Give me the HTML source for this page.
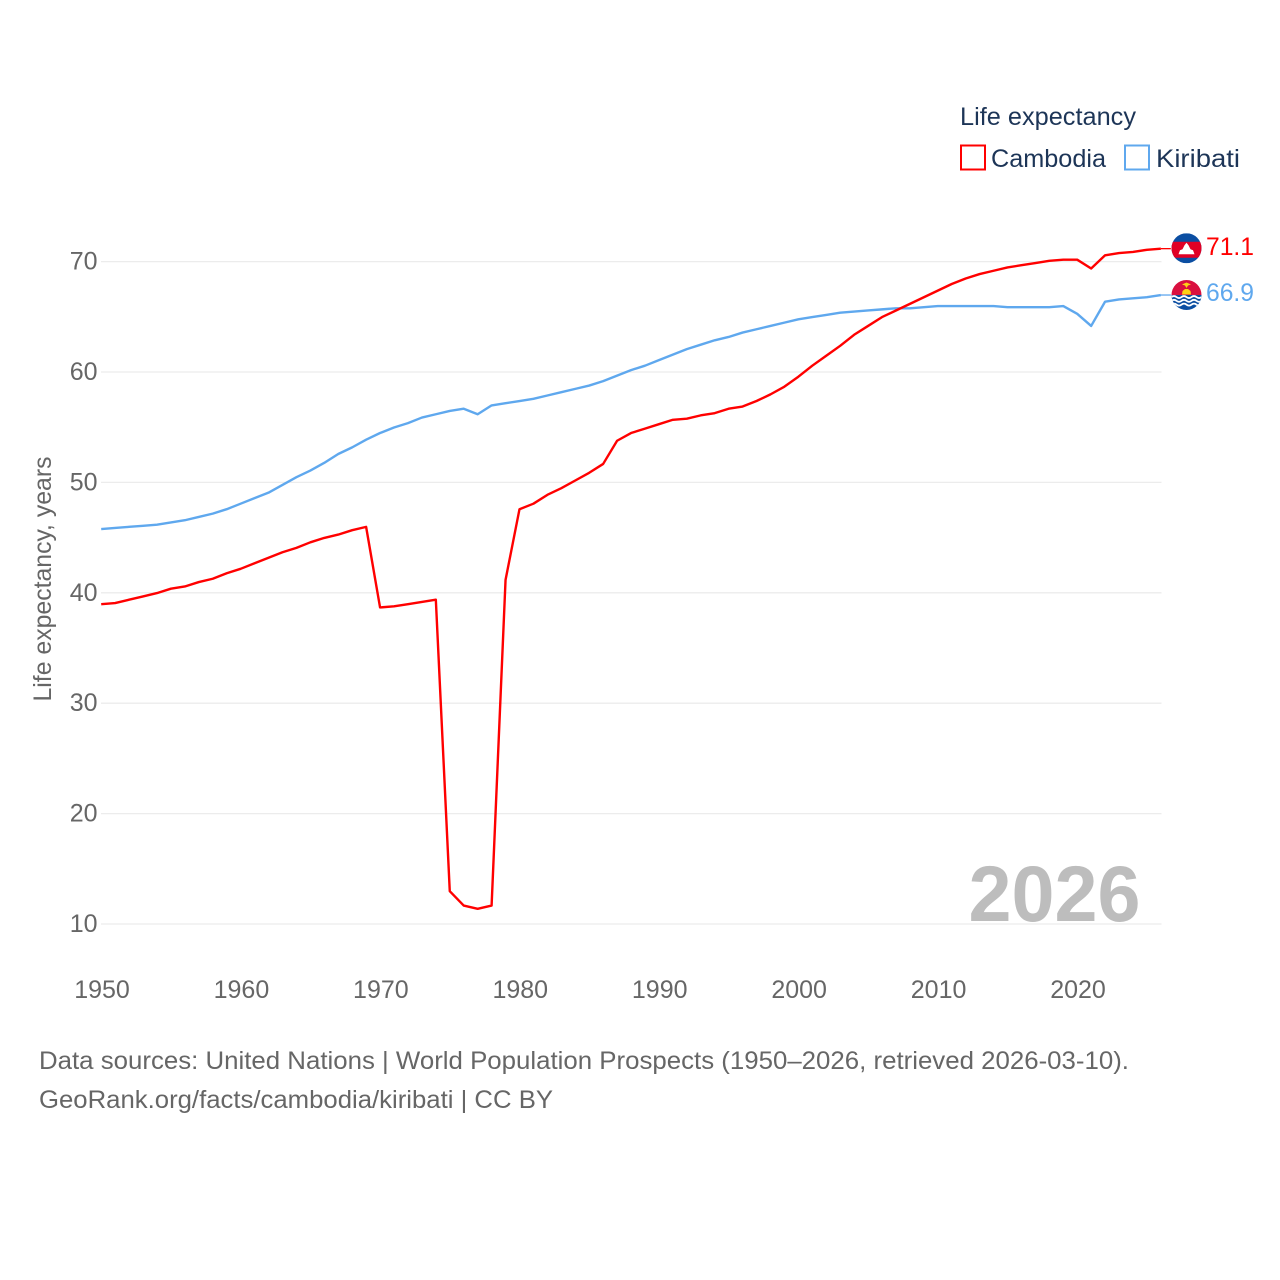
<!DOCTYPE html>
<html lang="en">
<head>
<meta charset="utf-8">
<title>Life expectancy: Cambodia and Kiribati</title>
<style>
html,body{margin:0;padding:0;background:#fff;width:1280px;height:1280px;overflow:hidden}
svg{display:block}
text{font-family:"Liberation Sans",Arial,sans-serif}
</style>
</head>
<body>
<svg id="chart" xmlns="http://www.w3.org/2000/svg" width="1280" height="1280" viewBox="0 0 1280 1280">
  <defs>
    <clipPath id="flag-clip"><circle cx="0" cy="0" r="15"></circle></clipPath>
  </defs>
  <g id="grid"></g>
  <g id="yticks"></g>
  <g id="xticks"></g>
  <text transform="translate(51,701.5) rotate(-90)" font-size="25" fill="#666" textLength="245" lengthAdjust="spacingAndGlyphs">Life expectancy, years</text>
  <text x="968.5" y="921" font-size="79" font-weight="bold" fill="#bdbdbd" textLength="172" lengthAdjust="spacingAndGlyphs">2026</text>
  <g id="series" transform="translate(-0.8,-0.8)"></g>

  <g id="flag-cambodia">
    <g clip-path="url(#flag-clip)">
      <rect x="-15" y="-15" width="30" height="30" fill="#0b4ea2"></rect>
      <rect x="-15" y="-6.5" width="30" height="16" fill="#e00025"></rect>
      <path d="M-8 6 L-6.5 2 L-4 1 L-2 -3 L0 -5.5 L2 -3 L4 1 L6.5 2 L8 6 Z" fill="#fff"></path>
    </g>
  </g>
  <g id="flag-kiribati">
    <g clip-path="url(#flag-clip)">
      <rect x="-15" y="-15" width="30" height="16" fill="#d9103f"></rect>
      <rect x="-15" y="0" width="30" height="16" fill="#0b4ea2"></rect>
      <path d="M-15 2 q2.5 -2 5 0 t5 0 t5 0 t5 0 t5 0 t5 0" fill="none" stroke="#fff" stroke-width="1.8"></path>
      <path d="M-15 5.8 q2.5 -2 5 0 t5 0 t5 0 t5 0 t5 0 t5 0" fill="none" stroke="#fff" stroke-width="1.8"></path>
      <path d="M-15 9.6 q2.5 -2 5 0 t5 0 t5 0 t5 0 t5 0 t5 0" fill="none" stroke="#fff" stroke-width="1.8"></path>
      <path d="M-4.5 -0.5 L-4 -4 L-1.5 -6 L1.5 -6 L4 -4 L4.5 -0.5 Z" fill="#fcd116"></path>
      <path d="M-4.5 -10.5 L0 -12.5 L4.5 -10.5 L1.5 -9.5 L0 -7 L-1.5 -9.5 Z" fill="#fcd116"></path>
    </g>
  </g>
  <g id="end-labels"></g>

  <g id="legend">
    <text x="960" y="125" font-size="25" fill="#1d3557" textLength="176" lengthAdjust="spacingAndGlyphs">Life expectancy</text>
    <g>
      <rect x="961" y="145.5" width="24" height="24" fill="none" stroke="#ff0000" stroke-width="2"></rect>
      <text x="991" y="167" font-size="25" fill="#1d3557" textLength="115" lengthAdjust="spacingAndGlyphs">Cambodia</text>
    </g>
    <g>
      <rect x="1125" y="145.5" width="24" height="24" fill="none" stroke="#5fa8ee" stroke-width="2"></rect>
      <text x="1156" y="167" font-size="25" fill="#1d3557" textLength="84" lengthAdjust="spacingAndGlyphs">Kiribati</text>
    </g>
  </g>

  <text x="39" y="1069" font-size="25" fill="#666" textLength="1090" lengthAdjust="spacingAndGlyphs">Data sources: United Nations | World Population Prospects (1950–2026, retrieved 2026-03-10).</text>
  <text x="39" y="1108" font-size="25" fill="#666" textLength="514" lengthAdjust="spacingAndGlyphs">GeoRank.org/facts/cambodia/kiribati | CC BY</text>
</svg>
<script>
const startYear = 1950;
const xTickYears = [1950, 1960, 1970, 1980, 1990, 2000, 2010, 2020];
const yTickValues = [10, 20, 30, 40, 50, 60, 70];
const cambodiaValues = [
  38.9, 39.0, 39.3, 39.6, 39.9, 40.3, 40.5, 40.9, 41.2, 41.7,
  42.1, 42.6, 43.1, 43.6, 44.0, 44.5, 44.9, 45.2, 45.6, 45.9,
  38.6, 38.7, 38.9, 39.1, 39.3, 12.9, 11.6, 11.3, 11.6, 41.1,
  47.5, 48.0, 48.8, 49.4, 50.1, 50.8, 51.6, 53.7, 54.4, 54.8,
  55.2, 55.6, 55.7, 56.0, 56.2, 56.6, 56.8, 57.3, 57.9, 58.6,
  59.5, 60.5, 61.4, 62.3, 63.3, 64.1, 64.9, 65.5, 66.1, 66.7,
  67.3, 67.9, 68.4, 68.8, 69.1, 69.4, 69.6, 69.8, 70.0, 70.1,
  70.1, 69.3, 70.5, 70.7, 70.8, 71.0, 71.1
];
const kiribatiValues = [
  45.7, 45.8, 45.9, 46.0, 46.1, 46.3, 46.5, 46.8, 47.1, 47.5,
  48.0, 48.5, 49.0, 49.7, 50.4, 51.0, 51.7, 52.5, 53.1, 53.8,
  54.4, 54.9, 55.3, 55.8, 56.1, 56.4, 56.6, 56.1, 56.9, 57.1,
  57.3, 57.5, 57.8, 58.1, 58.4, 58.7, 59.1, 59.6, 60.1, 60.5,
  61.0, 61.5, 62.0, 62.4, 62.8, 63.1, 63.5, 63.8, 64.1, 64.4,
  64.7, 64.9, 65.1, 65.3, 65.4, 65.5, 65.6, 65.7, 65.7, 65.8,
  65.9, 65.9, 65.9, 65.9, 65.9, 65.8, 65.8, 65.8, 65.8, 65.9,
  65.2, 64.1, 66.3, 66.5, 66.6, 66.7, 66.9
];

const NS = 'http://www.w3.org/2000/svg';
function xScale(year) { return 102 + (year - 1950) * 13.943; }
function yScale(value) { return 924 - (value - 10) * 11.04; }
function make(tag, attrs, text) {
  const el = document.createElementNS(NS, tag);
  for (const k in attrs) el.setAttribute(k, attrs[k]);
  if (text !== undefined) el.textContent = text;
  return el;
}

const grid = document.getElementById('grid');
const yticks = document.getElementById('yticks');
yTickValues.forEach(function (v) {
  const line = make('line', { x1: 101, x2: 1161.5, y1: yScale(v), y2: yScale(v), stroke: '#ececec', 'stroke-width': 1.3 });
  
  
  grid.appendChild(line);
  const label = make('text', { x: 97.5, y: yScale(v) + 8, 'text-anchor': 'end', 'font-size': 25, fill: '#666' }, String(v));
  
  
  yticks.appendChild(label);
});

const xticks = document.getElementById('xticks');
xTickYears.forEach(function (y) {
  const label = make('text', { x: xScale(y), y: 998, 'text-anchor': 'middle', 'font-size': 25, fill: '#666' }, String(y));
  
  
  xticks.appendChild(label);
});

function linePoints(values) {
  return values.map(function (v, i) {
    return xScale(startYear + i).toFixed(2) + ',' + yScale(v).toFixed(2);
  }).join(' ');
}

const series = document.getElementById('series');

const kiribatiLine = make('polyline', { points: linePoints(kiribatiValues), fill: 'none', stroke: '#5fa8ee', 'stroke-width': 2.4, 'stroke-linejoin': 'round' });


series.appendChild(kiribatiLine);

const cambodiaLine = make('polyline', { points: linePoints(cambodiaValues), fill: 'none', stroke: '#ff0000', 'stroke-width': 2.4, 'stroke-linejoin': 'round' });


series.appendChild(cambodiaLine);

const endLabels = document.getElementById('end-labels');
const cambodiaLast = cambodiaValues[cambodiaValues.length - 1];
const kiribatiLast = kiribatiValues[kiribatiValues.length - 1];
const lastX = xScale(startYear + cambodiaValues.length - 1);

const cambodiaConnector = make('line', { x1: lastX, x2: lastX + 10, y1: yScale(cambodiaLast), y2: yScale(cambodiaLast), stroke: '#ff0000', 'stroke-width': 1.3 });


series.appendChild(cambodiaConnector);

const kiribatiConnector = make('line', { x1: lastX, x2: lastX + 10, y1: yScale(kiribatiLast), y2: yScale(kiribatiLast), stroke: '#5fa8ee', 'stroke-width': 1.3 });


series.appendChild(kiribatiConnector);

document.getElementById('flag-cambodia').setAttribute('transform', 'translate(1186.5,' + (yScale(cambodiaLast) - 1.2) + ')');
document.getElementById('flag-kiribati').setAttribute('transform', 'translate(1186.5,' + (yScale(kiribatiLast) - 0.8) + ')');

const cambodiaEnd = make('text', { x: 1206, y: yScale(cambodiaLast) + 5.3, 'font-size': 25, fill: '#ff0000', textLength: 48, lengthAdjust: 'spacingAndGlyphs' }, cambodiaLast.toFixed(1));


endLabels.appendChild(cambodiaEnd);

const kiribatiEnd = make('text', { x: 1206, y: yScale(kiribatiLast) + 5.3, 'font-size': 25, fill: '#5fa8ee', textLength: 48, lengthAdjust: 'spacingAndGlyphs' }, kiribatiLast.toFixed(1));


endLabels.appendChild(kiribatiEnd);
</script>
</body>
</html>
